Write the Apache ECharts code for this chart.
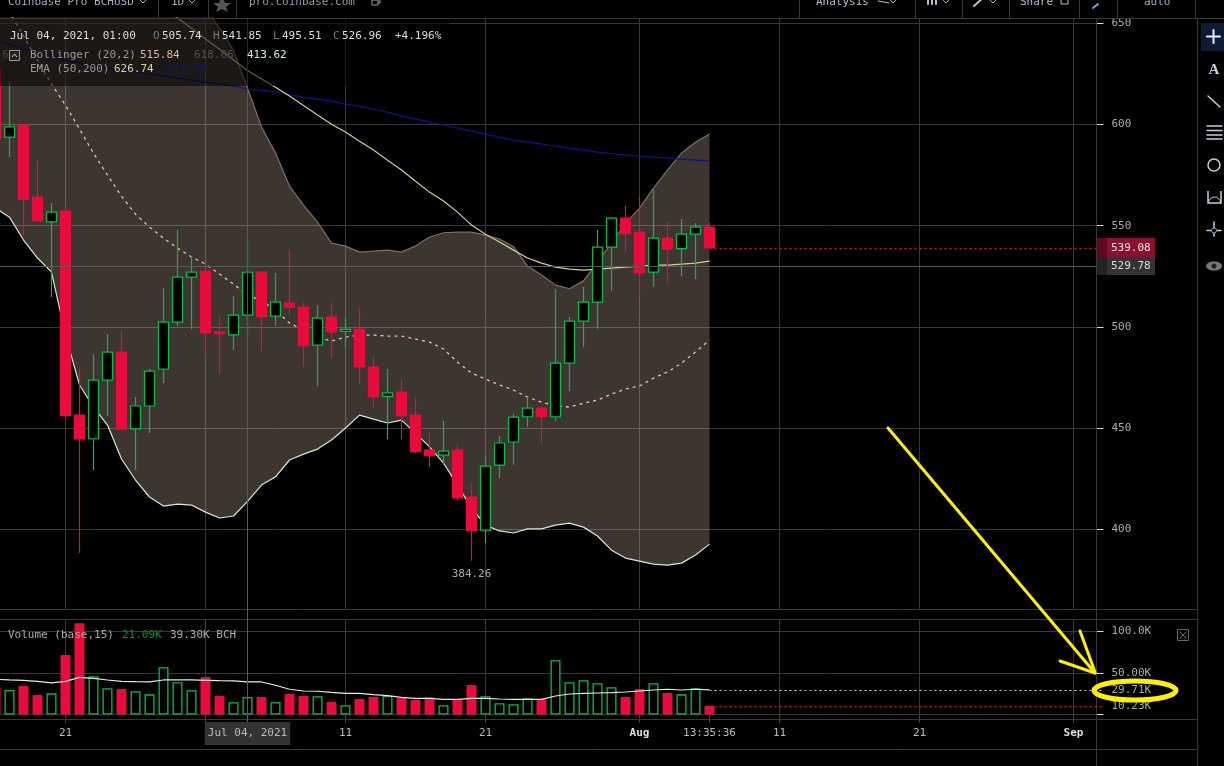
<!DOCTYPE html>
<html><head><meta charset="utf-8">
<style>html,body{margin:0;padding:0;background:#000;overflow:hidden}#c{width:1224px;height:766px}</style>
<script src="https://cdn.jsdelivr.net/npm/echarts@6/dist/echarts.min.js"></script>
</head><body><div id="c"></div>
<script>
const categories=['06-16','06-17','06-18','06-19','06-20','06-21','06-22','06-23','06-24','06-25','06-26','06-27','06-28','06-29','06-30',
'07-01','07-02','07-03','07-04','07-05','07-06','07-07','07-08','07-09','07-10','07-11','07-12','07-13','07-14','07-15','07-16','07-17','07-18','07-19','07-20','07-21','07-22','07-23','07-24','07-25','07-26','07-27','07-28','07-29','07-30','07-31',
'08-01','08-02','08-03','08-04','08-05','08-06','08-07','08-08','08-09','08-10','08-11','08-12','08-13','08-14','08-15','08-16','08-17','08-18','08-19','08-20','08-21','08-22','08-23','08-24','08-25','08-26','08-27','08-28','08-29','08-30','08-31',
'09-01','09-02','09-03'];
const open=[627.4,593.8,599.7,564.1,551.9,557.2,456.3,444.6,473.6,487.5,449.5,460.8,479.1,502.3,524.6,527.5,497.5,496.0,505.74,527.0,505.3,511.7,509.7,490.9,504.8,497.7,498.9,480.1,465.6,467.7,456.3,439.0,436.5,439.0,415.7,399.4,431.6,443.0,455.5,459.8,455.5,482.0,502.8,512.2,539.4,553.7,546.8,527.0,543.8,538.6,545.8,549.3];
const close=[593.3,598.9,563.1,552.4,556.7,456.0,444.5,473.6,487.5,449.4,460.8,478.1,502.3,524.6,527.0,497.0,496.5,505.8,526.96,505.0,512.2,509.7,490.6,504.3,497.5,498.7,480.1,465.4,467.3,456.0,438.2,436.2,438.5,415.4,399.1,431.1,442.5,455.3,459.8,455.5,482.0,502.8,512.2,539.4,553.7,546.0,526.7,543.8,538.4,545.8,549.3,539.08];
const low=[590.0,583.9,545.3,552.4,514.7,456.0,388.1,429.1,455.8,449.4,429.1,447.4,472.1,500.3,498.8,486.0,476.6,488.5,495.51,488.0,500.3,505.8,480.1,470.7,484.5,490.0,471.6,460.3,444.4,444.4,437.5,430.6,432.1,413.8,384.26,393.0,425.2,431.7,450.5,442.5,453.5,468.2,490.1,499.0,517.8,537.1,514.7,519.8,521.8,524.7,523.6,539.08];
const high=[640.0,621.2,599.7,582.4,561.2,559.2,479.1,486.5,496.4,497.9,465.2,479.1,519.1,547.8,535.0,528.0,505.3,515.2,541.85,527.5,526.6,538.4,511.7,510.7,511.7,504.3,509.7,485.0,479.1,474.1,465.2,447.4,453.5,441.6,422.7,436.0,445.9,456.8,465.4,460.4,518.6,504.8,519.8,547.8,554.2,559.7,564.1,567.8,551.9,553.3,551.3,551.3];
const bollUpper=[760,758,755,752,748,745,740,735,728,720,712,702,692,680,668,657.6,647.7,636.8,618.06,598.8,585.9,569.6,560.2,551.8,541.4,539.9,536.9,537.4,537.9,536.9,539.9,544.4,546.5,546.8,546.8,545.3,543.4,539.6,530.0,525.6,520.6,518.8,522.7,532.0,541.4,551.3,558.7,568.6,577.5,585.9,591.3,595.3];
const bollLower=[558.7,554.2,542.9,534.0,527.0,495.9,471.2,460.3,451.4,434.6,424.2,415.8,411.3,412.3,411.8,408.3,405.4,406.4,413.62,421.7,425.8,434.1,437.0,439.5,444.0,449.9,456.3,454.3,452.4,453.8,447.4,440.6,432.6,421.7,410.3,401.9,399.0,398.0,400.0,400.0,401.9,402.9,400.9,396.5,389.5,385.6,384.1,382.6,382.1,383.1,387.1,392.5];
const bollMid=[668.5,655.6,643.8,631.9,620.0,609.6,597.8,585.9,575.0,564.6,555.7,549.3,543.8,538.9,534.5,531.0,526.1,521.1,515.84,512.8,508.3,501.8,498.4,494.9,492.9,494.9,495.9,495.9,495.4,495.4,493.9,492.4,489.0,482.5,477.1,474.1,471.2,468.7,465.2,462.7,460.8,460.3,462.2,463.7,466.7,469.2,470.7,474.6,477.6,482.0,487.5,493.4];
const ema50=[728.8,722.4,716,709.5,703.1,697.2,691.2,685.3,679.4,673.9,668.5,663.0,657.6,652.7,647.7,642.3,637.3,632.1,626.74,622.5,618.5,614.1,609.4,604.7,600.2,596.3,591.8,587.4,582.4,577.5,572.0,566.6,562.2,556.7,550.3,545.8,541.9,537.9,534.0,531.5,529.5,528.5,528.0,528.5,529.0,529.5,530.0,530.5,530.5,531.0,531.5,532.5];
const ema200=[641.8,639.8,637.8,635.8,633.9,631.9,630.4,628.9,627.9,626.9,626.0,625.0,624.0,623.0,622.0,621.0,620.0,619.0,617.37,617.0,616.0,614.8,613.6,612.6,611.6,610.1,609.1,607.7,606.2,604.2,602.7,601.2,599.8,598.3,596.8,595.3,593.8,592.3,591.3,590.3,589.3,588.4,587.4,586.4,585.7,584.9,584.4,583.9,583.4,582.9,582.4,581.9];
const volume=[33.1,29.5,34.3,23.5,25.5,71.7,109.9,46.0,31.6,30.7,28.0,24.3,56.9,38.8,29.2,45.2,22.3,14.7,21.09,21.1,14.7,24.7,22.3,21.9,15.1,11.1,18.7,21.1,22.7,19.9,17.5,20.7,11.1,18.3,35.5,21.9,13.5,12.3,19.5,18.3,65.3,38.8,41.2,37.6,32.8,21.1,30.7,37.6,25.9,24.3,31.6,10.23];
const volumeMA=[42.4,41.6,41.0,39.8,38.0,40.0,44.8,43.6,41.6,40.0,39.5,39.2,41.6,41.6,41.6,41.2,40.7,40.4,39.30,39.2,35.2,30.4,28.3,28.0,26.7,25.5,25.5,23.9,22.7,20.7,19.5,19.5,18.3,18.3,19.5,19.5,18.7,18.3,18.3,18.3,22.3,24.7,25.5,25.9,26.3,27.1,28.3,29.5,30.4,29.5,30.4,29.71];
const priceTicks=[400,450,500,550,600,650];
const volumeLabelTicks=[50,100,29.71,10.23];
const volumeTicks=[0,50,100];
const gridDays=['06-21','07-01','07-11','07-21','08-01','08-11','08-21','09-01'];
const axisLabels={'06-21':'21','07-04':'Jul 04, 2021','07-11':'11','07-21':'21','08-01':'Aug','08-06':'13:35:36','08-11':'11','08-21':'21','09-01':'Sep'};
const lastPrice=539.08, crossPrice=529.78, lowMark=384.26, lastVolume=10.23, lastVolumeMA=29.71;

const FONT='"DejaVu Sans Mono",monospace', GREEN='#00c04c', RED='#e80c3c', GRID='#383838';
const fmtVol=v=>v>=100?v.toFixed(1)+'K':v===50?'50.00K':v.toFixed(2)+'K';
const chart=echarts.init(document.getElementById('c'),null,{renderer:'canvas'});
const upVol=volume.map((v,i)=>({value:v,itemStyle:close[i]>open[i]?{color:'#000',borderColor:GREEN,borderWidth:1.3}:{color:RED,borderColor:RED,borderWidth:1}}));
const hl=(y,x1,x2,c)=>({type:'line',shape:{x1:x1||0,y1:y,x2:x2||1197,y2:y},style:{stroke:c||GRID,lineWidth:1},z:5,silent:true});
const vl=(x,y1,y2,c)=>({type:'line',shape:{x1:x,y1:y1,x2:x,y2:y2},style:{stroke:c||GRID,lineWidth:1},z:5,silent:true});
const txt=(t,x,y,c,o)=>({type:'text',x,y,z:60,silent:true,style:Object.assign({text:t,fill:c||'#aaa',font:'11px '+FONT,textVerticalAlign:'middle',textAlign:'left'},o||{})});
const seg=(x1,y1,x2,y2,c,w,z)=>({type:'line',shape:{x1,y1,x2,y2},style:{stroke:c,lineWidth:w||1,lineCap:'round'},z:z||61,silent:true});
const chev=(x,y,c)=>({type:'polyline',shape:{points:[[x-3,y-2],[x,y+1],[x+3,y-2]]},style:{stroke:c||'#9aa',fill:'none',lineWidth:1},z:60,silent:true});
const YEL='#fff000';
const graphic=[
 hl(18.5,0,1224),hl(609.5),hl(619.5),hl(719.5),hl(749.5),
 vl(1096.5,18,766),vl(1197.5,18,766),
 vl(158.5,0,18),vl(208.5,0,18),vl(236.5,0,18),vl(799.5,0,18),vl(915.5,0,18),vl(962.5,0,18),vl(1009.5,0,18),vl(1079.5,0,18),vl(1117.5,0,18),vl(1195.5,0,18),
 vl(247.5,18,722,'#5a5a5a'),
 txt('Coinbase Pro BCHUSD',8,2,'#aab'),chev(143,2),txt('1D',171,2,'#aab'),chev(192,2),
 {type:'polygon',shape:{points:[[222,-6],[225,3],[231,3],[226,7],[228,12],[222,9],[216,12],[218,7],[213,3],[219,3]]},style:{fill:'#555'},z:60,silent:true},
 txt('pro.coinbase.com',249,2,'#99a'),
 {type:'rect',shape:{x:374,y:-3,width:6,height:6},style:{stroke:'#99a',fill:'none'},z:60,silent:true},
 {type:'rect',shape:{x:372,y:0,width:6,height:5},style:{stroke:'#99a',fill:'#000'},z:60,silent:true},
 txt('Analysis',816,2,'#b5c2cc'),chev(893,2),
 seg(878,1,889,3,'#b5c2cc',1,60),
 seg(928,-2,928,4,'#b5c2cc',2,60),seg(932,-2,932,4,'#b5c2cc',2,60),seg(936,-2,936,4,'#b5c2cc',2,60),chev(946,2),
 seg(974,6,984,-3,'#b5c2cc',2,60),chev(993,2),
 txt('Share',1020,2,'#b5c2cc'),{type:'rect',shape:{x:1061,y:-3,width:7,height:7},style:{stroke:'#b5c2cc',fill:'none'},z:60,silent:true},
 seg(1093,8,1098,4,'#6fa8dc',2,60),
 txt('auto',1144,2,'#8fb0d0'),
 // legend panel
 {type:'rect',shape:{x:0,y:19,width:450,height:67},style:{fill:'rgba(0,0,0,0.55)'},z:50,silent:true},
 txt('Jul 04, 2021, 01:00',10,36,'#ddd'),
 txt('O',153,36,'#777'),txt('505.74',162,36,'#ddd'),
 txt('H',213,36,'#777'),txt('541.85',222,36,'#ddd'),
 txt('L',273,36,'#777'),txt('495.51',282,36,'#ddd'),
 txt('C',333,36,'#777'),txt('526.96',342,36,'#ddd'),
 txt('+4.196%',395,36,'#ddd'),
 txt('62',2,55,'#444'),
 {type:'rect',shape:{x:9.5,y:50.5,width:10,height:10},style:{stroke:'#999',fill:'#222'},z:61,silent:true},
 {type:'polyline',shape:{points:[[12,57],[14.5,54],[17,57]]},style:{stroke:'#ccc',fill:'none'},z:62,silent:true},
 txt('Bollinger (20,2)',30,55,'#999'),txt('515.84',140,55,'#e8b48a'),txt('618.06',194,55,'#5a4e44'),txt('413.62',247,55,'#c8f0e0'),
 txt('EMA (50,200)',30,69,'#999'),txt('626.74',114,69,'#d8d890'),txt('617.37',167,69,'#14146a'),
 txt('Volume (base,15)',8,635,'#aaa'),txt('21.09K',122,635,'#0a8a3c'),txt('39.30K BCH',170,635,'#aaa'),
 // price labels
 {type:'rect',shape:{x:1097,y:238,width:10,height:19},style:{fill:'#5e0a20'},z:40,silent:true},
 {type:'rect',shape:{x:1107,y:238,width:48,height:19},style:{fill:'#8d0f30'},z:40,silent:true},
 txt('539.08',1111,248,'#e8e8e8'),
 {type:'rect',shape:{x:1097,y:257,width:10,height:18},style:{fill:'#222'},z:40,silent:true},
 {type:'rect',shape:{x:1107,y:257,width:48,height:18},style:{fill:'#333'},z:40,silent:true},
 txt('529.78',1111,266,'#ddd'),
 // right toolbar
 {type:'rect',shape:{x:1201,y:23,width:23,height:28},style:{fill:'#0f1a36'},z:40,silent:true},
 seg(1207,36.5,1220,36.5,'#e8f0ff',2),seg(1213.5,30,1213.5,43,'#e8f0ff',2),
 txt('A',1214,70,'#ccd',{font:'bold 15px "Liberation Serif",serif',textAlign:'center'}),
 seg(1208,96,1220,107,'#ccd',1.5),
 seg(1207,126,1222,126,'#ccd',1.5),seg(1207,130.5,1222,130.5,'#ccd',1.5),seg(1207,135,1222,135,'#ccd',1.5),seg(1207,139,1222,139,'#ccd',1.5),
 {type:'circle',shape:{cx:1214,cy:165,r:6},style:{stroke:'#ccd',fill:'none',lineWidth:1.5},z:61,silent:true},
 {type:'polyline',shape:{points:[[1208,191],[1208,203],[1221,203],[1221,191]]},style:{stroke:'#ccd',fill:'none',lineWidth:1.5},z:61,silent:true},
 {type:'arc',shape:{cx:1214.5,cy:203,r:6,startAngle:Math.PI,endAngle:0},style:{stroke:'#ccd',fill:'none',lineWidth:1},z:61,silent:true},
 seg(1214,222,1214,236,'#ccd',1.5),seg(1207,230.5,1221,230.5,'#ccd',1.5),
 {type:'circle',shape:{cx:1214,cy:230.5,r:2.5},style:{stroke:'#7ab',fill:'#000'},z:62,silent:true},
 {type:'ellipse',shape:{cx:1214,cy:266,rx:8,ry:4.5},style:{fill:'#777'},z:61,silent:true},
 {type:'circle',shape:{cx:1214,cy:266,r:2.5},style:{fill:'#222'},z:62,silent:true},
 // close box on volume pane
 {type:'rect',shape:{x:1177.5,y:629.5,width:11,height:11},style:{stroke:'#666',fill:'none'},z:60,silent:true},
 seg(1180,632,1186,638,'#666',1),seg(1186,632,1180,638,'#666',1),
 // hand-drawn annotations
 seg(888,428,1095,673,YEL,3,70),seg(1080,631,1095,672,YEL,3,70),seg(1060,661,1095,673,YEL,3,70),
 {type:'ellipse',shape:{cx:1135,cy:690.5,rx:41,ry:9.5},style:{stroke:YEL,fill:'none',lineWidth:5},z:70,silent:true}
];
const lineBase={symbol:'none',animation:false,silent:true,xAxisIndex:0,yAxisIndex:0,z:2};
chart.setOption({
 animation:false,backgroundColor:'#000',
 grid:[{left:-4.5,top:18,width:1106,height:591,outerBoundsMode:'none'},{left:-4.5,top:619.5,width:1106,height:95,outerBoundsMode:'none'}],
 graphic:{elements:graphic},
 xAxis:[
  {type:'category',gridIndex:0,data:categories,boundaryGap:false,axisLine:{show:false},axisTick:{show:false},axisLabel:{show:false},
   splitLine:{show:true,interval:(i,v)=>gridDays.includes(v),lineStyle:{color:GRID}}},
  {type:'category',gridIndex:1,data:categories,boundaryGap:false,axisLine:{show:false},
   axisTick:{show:true,length:8,interval:(i,v)=>gridDays.includes(v)||v==='08-06',lineStyle:{color:'#444'}},
   axisLabel:{show:true,margin:19,verticalAlign:'middle',interval:(i,v)=>v in axisLabels,hideOverlap:false,color:'#bbb',fontFamily:FONT,fontSize:11,
    formatter:v=>{const t=axisLabels[v];if(!t)return'';if(t==='Jul 04, 2021')return'{box|'+t+'}';if(t==='Aug'||t==='Sep')return'{b|'+t+'}';return t;},
    rich:{box:{backgroundColor:'#333',color:'#bbb',fontFamily:FONT,fontSize:11,padding:[6,3,6,3]},b:{color:'#ddd',fontFamily:FONT,fontSize:11,fontWeight:'bold'}}},
   splitLine:{show:true,interval:(i,v)=>gridDays.includes(v),lineStyle:{color:GRID}}}
 ],
 yAxis:[
  {type:'value',gridIndex:0,position:'right',offset:-5,min:360.4,max:652.72,
   axisLine:{show:false},axisTick:{show:true,length:7,inside:false,customValues:priceTicks,lineStyle:{color:'#ddd'}},
   axisLabel:{show:true,margin:15,padding:[4,0,0,0],customValues:priceTicks,color:'#aaa',fontFamily:FONT,fontSize:11},
   splitLine:{show:true,customValues:priceTicks,lineStyle:{color:GRID}}},
  {type:'value',gridIndex:1,position:'right',offset:-5,min:0,max:114.46,interval:50,
   axisLine:{show:false},axisTick:{show:true,length:7,customValues:volumeTicks,lineStyle:{color:'#ddd'}},
   axisLabel:{show:true,margin:15,padding:[4,0,0,0],customValues:volumeLabelTicks,color:'#aaa',fontFamily:FONT,fontSize:11,formatter:fmtVol},
   splitLine:{show:true,customValues:volumeTicks,lineStyle:{color:GRID}}}
 ],
 series:[
  Object.assign({},lineBase,{name:'lower',type:'line',data:bollLower,stack:'boll',lineStyle:{color:'#dce8d0',width:1.2}}),
  Object.assign({},lineBase,{name:'upper',type:'line',data:bollUpper.map((v,i)=>+(v-bollLower[i]).toFixed(2)),stack:'boll',lineStyle:{color:'#7f7060',width:1.2},areaStyle:{color:'rgba(255,221,197,0.24)',opacity:1}}),
  Object.assign({},lineBase,{name:'mid',type:'line',data:bollMid,lineStyle:{color:'#f0bfa5',width:1.3,type:[3,4]}}),
  Object.assign({},lineBase,{name:'ema200',type:'line',data:ema200,lineStyle:{color:'#101090',width:1.2}}),
  Object.assign({},lineBase,{name:'ema50',type:'line',data:ema50,lineStyle:{color:'#d0d090',width:1.2}}),
  {type:'candlestick',xAxisIndex:0,yAxisIndex:0,z:3,barWidth:10,silent:true,
   data:open.map((o,i)=>[o,close[i],low[i],high[i]]),
   itemStyle:{color:'#000',borderColor:GREEN,color0:RED,borderColor0:RED,borderWidth:1.2},
   markPoint:{silent:true,symbol:'circle',symbolSize:0,data:[{coord:['07-20',lowMark],value:lowMark}],label:{show:true,position:'bottom',distance:8,color:'#aaa',fontFamily:FONT,fontSize:11,formatter:'{c}'}},
   markLine:{silent:true,symbol:'none',label:{show:false},animation:false,data:[
     [{xAxis:'08-06',yAxis:lastPrice,lineStyle:{color:RED,type:[2,3],width:1}},{xAxis:'09-03',yAxis:lastPrice}],
     [{xAxis:'06-16',yAxis:crossPrice,lineStyle:{color:'#5a5a5a',type:'solid',width:1}},{xAxis:'09-03',yAxis:crossPrice}]
   ]}},
  {type:'bar',xAxisIndex:1,yAxisIndex:1,barWidth:10,z:2,silent:true,data:upVol,
   markLine:{silent:true,symbol:'none',label:{show:false},animation:false,data:[
     [{xAxis:'08-06',yAxis:lastVolume,lineStyle:{color:RED,type:[2,3],width:1}},{xAxis:'09-03',yAxis:lastVolume}],
     [{xAxis:'08-06',yAxis:lastVolumeMA,lineStyle:{color:'#ccc',type:[2,3],width:1}},{xAxis:'09-03',yAxis:lastVolumeMA}]
   ]}},
  {type:'line',xAxisIndex:1,yAxisIndex:1,symbol:'none',z:3,silent:true,data:volumeMA,lineStyle:{color:'#e8e8e8',width:1.2}}
 ]
});
</script></body></html>
